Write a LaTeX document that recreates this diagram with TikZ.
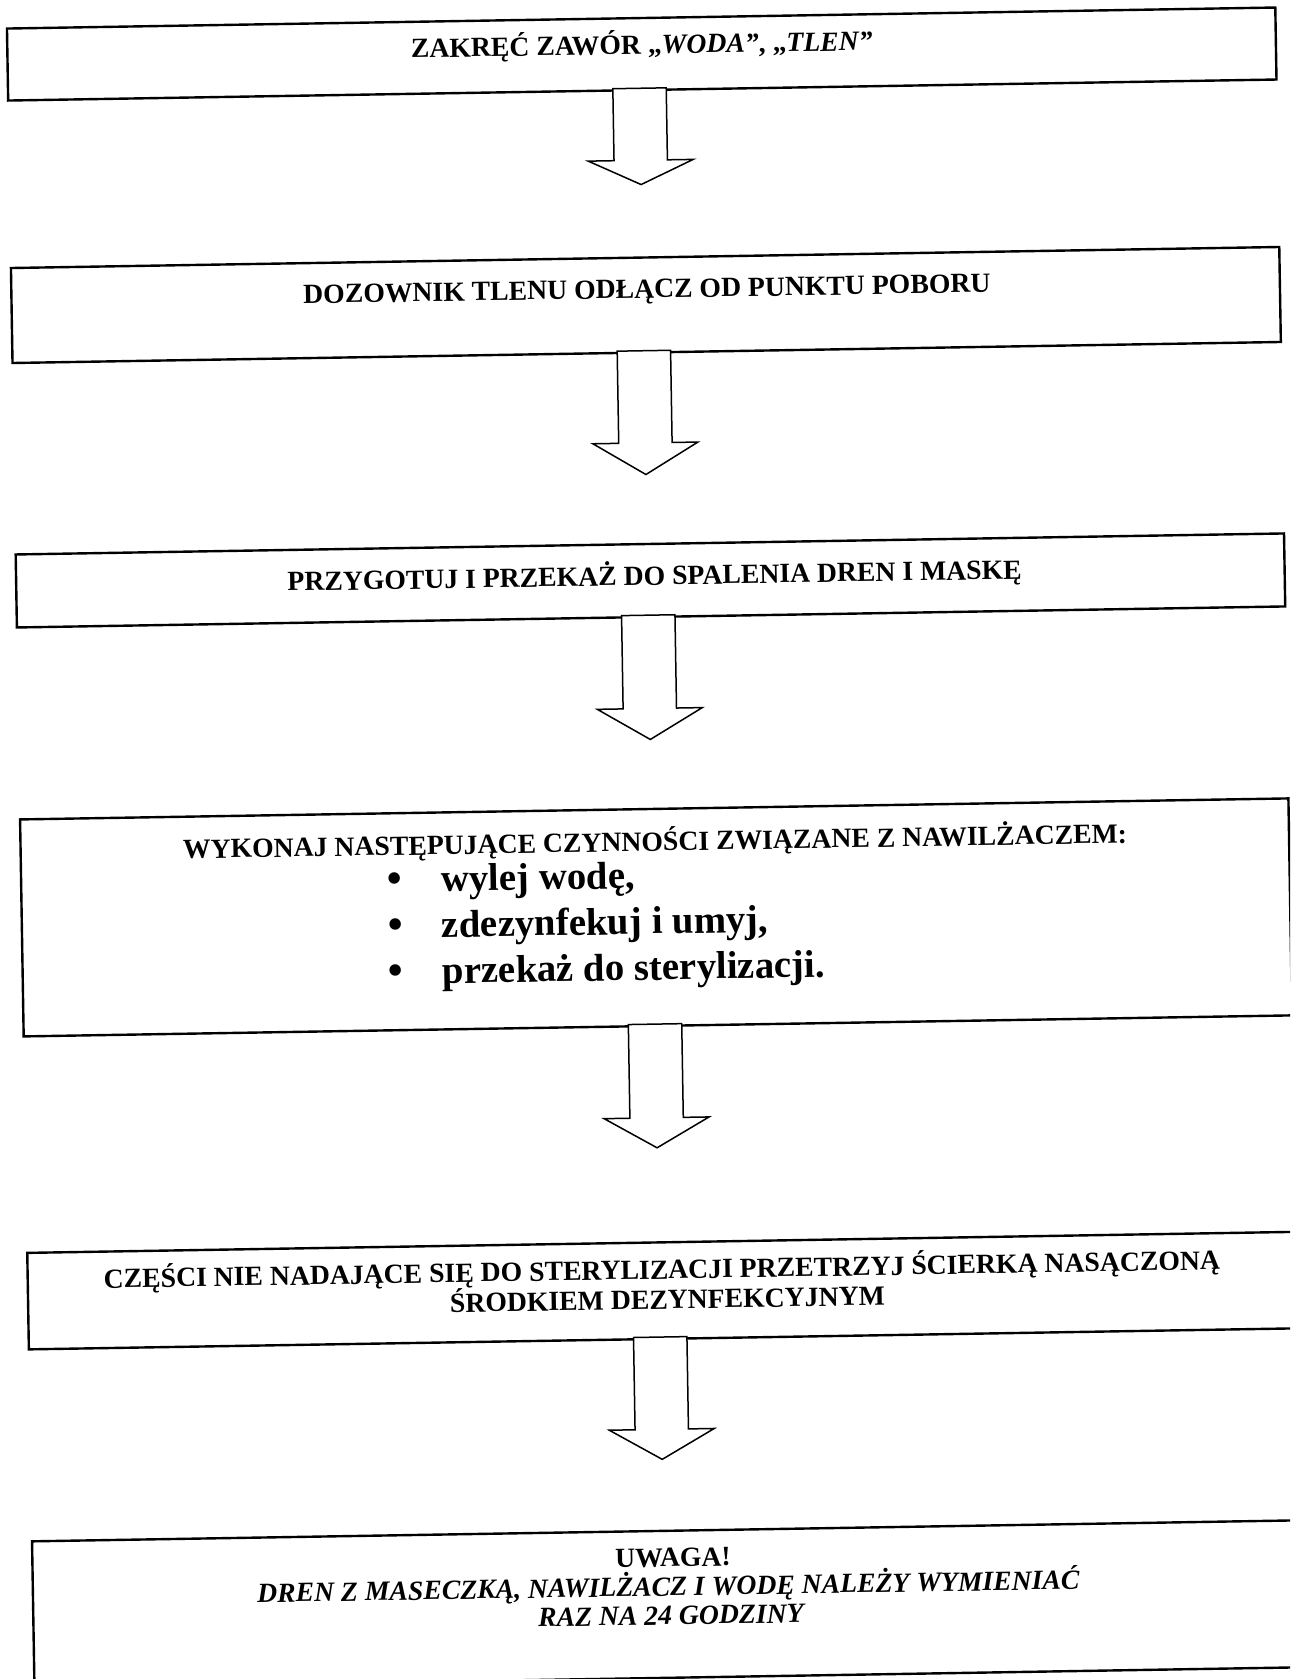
\documentclass[tikz,border=0pt]{standalone}
\usepackage{fontspec}
\setmainfont{Liberation Serif}
\usetikzlibrary{calc}

\tikzset{
  stepbox/.style={draw=black, line width=1.2pt, rectangle, inner sep=0pt,
    minimum width=634.25pt},
  blockarrow/.style={draw=black, fill=white, line width=0.75pt, line join=miter},
  headtext/.style={anchor=base, inner sep=0pt,
    font=\fontsize{13.85}{14.5}\selectfont\bfseries},
  headital/.style={headtext, font=\fontsize{13.85}{14.5}\selectfont\bfseries\itshape},
  itemtext/.style={anchor=base west, inner sep=0pt,
    font=\fontsize{19.4}{23}\selectfont\bfseries},
  bulletmark/.style={anchor=center, inner sep=0pt,
    font=\fontsize{24}{24}\selectfont},
}

% hollow block arrow hanging below a box: #1 source node,
% #2 depth of the head base, #3 depth of the tip (both below #1.south)
\newcommand{\flowarrow}[3]{%
  \draw[blockarrow]
    ($(#1.south)+(-29.45,-3)$) -- ($(#1.south)+(-29.45,#2)$)
    -- ($(#1.south)+(-55.25,#2)$) -- ($(#1.south)+(-2.75,#3)$)
    -- ($(#1.south)+(49.75,#2)$) -- ($(#1.south)+(23.95,#2)$)
    -- ($(#1.south)+(23.95,-3)$) -- cycle;}

\begin{document}
\begin{tikzpicture}[x=0.5pt, y=-0.5pt]
\useasboundingbox (0,0) rectangle (1290,1679);
\fill[white] (0,0) rectangle (1290,1679);
\clip (0,0) rectangle (1290,1679);

\begin{scope}[rotate around={0.95:(650,840)}, transform shape]
  % boxes
  \node[stepbox, minimum height=36pt]    (b1) at (654.75,54)     {};
  \node[stepbox, minimum height=47.5pt]  (b2) at (654.75,305)    {};
  \node[stepbox, minimum height=36.5pt]  (b3) at (654.75,580.5)  {};
  \node[stepbox, minimum height=108.5pt] (b4) at (654.75,917.5)  {};
  \node[stepbox, minimum height=48.25pt] (b5) at (654.75,1290.75){};
  \node[stepbox, minimum height=73.5pt]  (b6) at (654.75,1604.5) {};

  % texts
  \node[headtext] (t1) at (655,54)
    {ZAKRĘĆ ZAWÓR „\textit{WODA”}, „\textit{TLEN”}};
  \node[headtext] (t2) at (656,298)
    {DOZOWNIK TLENU ODŁĄCZ OD PUNKTU POBORU};
  \node[headtext] (t3) at (659,585)
    {PRZYGOTUJ I PRZEKAŻ DO SPALENIA DREN I MASKĘ};
  \node[headtext] (t4) at (655,851)
    {WYKONAJ NASTĘPUJĄCE CZYNNOŚCI ZWIĄZANE Z NAWILŻACZEM:};
  \node[bulletmark] (d1) at (394,879) {•};
  \node[bulletmark] (d2) at (394,925) {•};
  \node[bulletmark] (d3) at (394,971) {•};
  \node[itemtext] (i1) at (440,888)   {wylej wodę,};
  \node[itemtext] (i2) at (440,934)   {zdezynfekuj i umyj,};
  \node[itemtext] (i3) at (440,980)   {przekaż do sterylizacji.};
  \node[headtext] (t5a) at (654.8,1279)
    {CZĘŚCI NIE NADAJĄCE SIĘ DO STERYLIZACJI PRZETRZYJ ŚCIERKĄ NASĄCZONĄ};
  \node[headtext] (t5b) at (659.8,1309)
    {ŚRODKIEM DEZYNFEKCYJNYM};
  \node[headtext] (t6a) at (661,1567) {UWAGA!};
  \node[headital] (t6b) at (656,1596)
    {DREN Z MASECZKĄ, NAWILŻACZ I WODĘ NALEŻY WYMIENIAĆ};
  \node[headital] (t6c) at (658,1625) {RAZ NA 24 GODZINY};

  % arrows between the steps
  \flowarrow{b1}{69}{93.3}
  \flowarrow{b2}{89.2}{120.8}
  \flowarrow{b3}{90.3}{121.3}
  \flowarrow{b4}{90.7}{120.7}
  \flowarrow{b5}{89.3}{119.3}
\end{scope}
\end{tikzpicture}
\end{document}
